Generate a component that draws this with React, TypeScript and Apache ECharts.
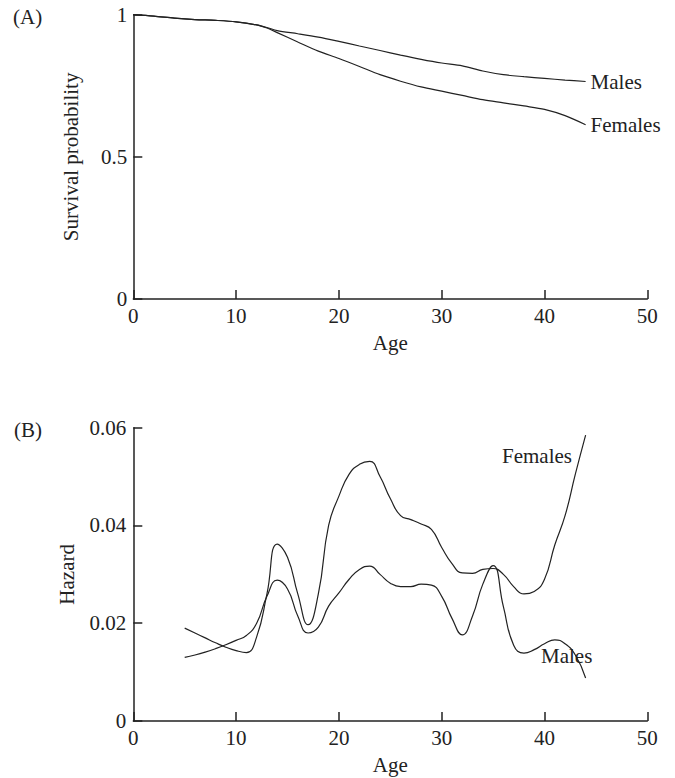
import React, { useEffect, useRef } from "react";
import * as echarts from "echarts";

// Panel A: survival probability
const survivalAges = [0, 2, 4, 6, 8, 10, 12, 13, 14, 16, 18, 20, 22, 24, 26, 28, 30, 32, 34, 36, 38, 40, 42, 44];
const survivalMales = [1.0, 0.995, 0.988, 0.983, 0.98, 0.975, 0.964, 0.955, 0.944, 0.933, 0.921, 0.906, 0.89, 0.874, 0.858, 0.843, 0.83, 0.82, 0.802, 0.789, 0.782, 0.776, 0.77, 0.765];
const survivalFemales = [1.0, 0.995, 0.988, 0.983, 0.98, 0.975, 0.964, 0.953, 0.937, 0.904, 0.872, 0.846, 0.818, 0.789, 0.766, 0.746, 0.731, 0.716, 0.701, 0.69, 0.679, 0.667, 0.645, 0.613];

// Panel B: hazard
const hazardAges = [5, 6, 7, 8, 9, 10, 11, 12, 13, 14, 15, 16, 17, 18, 19, 20, 21, 22, 23, 24, 25, 26, 27, 28, 29, 30, 31, 32, 33, 34, 35, 36, 37, 38, 39, 40, 41, 42, 43, 44];
const hazardFemales = [0.019, 0.018, 0.017, 0.016, 0.0151, 0.0144, 0.014, 0.0172, 0.026, 0.0362, 0.0335, 0.026, 0.0197, 0.026, 0.04, 0.046, 0.0505, 0.0525, 0.0531, 0.05, 0.0455, 0.042, 0.0412, 0.0403, 0.0392, 0.0355, 0.0322, 0.0303, 0.0302, 0.031, 0.0312, 0.03, 0.0275, 0.026, 0.0265, 0.029, 0.036, 0.042, 0.0505, 0.0585];
const hazardMales = [0.013, 0.0135, 0.0141, 0.0148, 0.0156, 0.0165, 0.0175, 0.02, 0.0255, 0.0288, 0.027, 0.0215, 0.018, 0.0192, 0.0235, 0.0262, 0.029, 0.031, 0.0317, 0.03, 0.0282, 0.0275, 0.0275, 0.028, 0.0278, 0.0255, 0.021, 0.0176, 0.0215, 0.028, 0.0318, 0.0234, 0.0155, 0.0139, 0.0146, 0.0158, 0.0166, 0.0158, 0.0135, 0.0088];

const ageTicks = [0, 10, 20, 30, 40, 50];

const FONT = "Liberation Serif";
const INK = "#222";
const FS = 21;

const zip = (xs: number[], ys: number[]) => xs.map((x, i) => [x, ys[i]]);

export default function App() {
  const ref = useRef<HTMLDivElement>(null);
  useEffect(() => {
    document.body.style.margin = "0";
    if (!ref.current) return;
    const chart = echarts.init(ref.current, undefined, { renderer: "svg" });
    const axisLine = { show: true, lineStyle: { color: INK, width: 1.5 } };
    const axisTick = { show: true, inside: true, length: 9, lineStyle: { color: INK, width: 1.5 } };
    const textBase = { fontFamily: FONT, fontSize: FS, color: INK };
    const xAxisCommon = {
      type: "value",
      min: ageTicks[0],
      max: ageTicks[ageTicks.length - 1],
      interval: 10,
      name: "Age",
      nameLocation: "middle",
      nameGap: 33,
      nameTextStyle: textBase,
      axisLine,
      axisTick,
      splitLine: { show: false },
      axisLabel: { ...textBase, margin: 6 },
    };
    const lineStyle = { color: INK, width: 1.2 };
    chart.setOption({
      animation: false,
      textStyle: { fontFamily: FONT },
      grid: [
        { left: 133.3, right: 27.7, top: 14.7, height: 284.3 },
        { left: 133.3, right: 27.7, top: 427.7, height: 293.3 },
      ],
      xAxis: [
        { ...xAxisCommon, gridIndex: 0 },
        { ...xAxisCommon, gridIndex: 1 },
      ],
      yAxis: [
        {
          type: "value",
          gridIndex: 0,
          min: 0,
          max: 1,
          interval: 0.5,
          name: "Survival probability",
          nameLocation: "middle",
          nameGap: 52,
          nameTextStyle: textBase,
          axisLine,
          axisTick,
          splitLine: { show: false },
          axisLabel: { ...textBase, margin: 6, formatter: (v: number) => String(v) },
        },
        {
          type: "value",
          gridIndex: 1,
          min: 0,
          max: 0.06,
          interval: 0.02,
          name: "Hazard",
          nameLocation: "middle",
          nameGap: 56,
          nameTextStyle: textBase,
          axisLine,
          axisTick,
          splitLine: { show: false },
          axisLabel: { ...textBase, margin: 7, formatter: (v: number) => (v === 0 ? "0" : v.toFixed(2)) },
        },
      ],
      series: [
        {
          type: "line",
          name: "Males",
          xAxisIndex: 0,
          yAxisIndex: 0,
          data: zip(survivalAges, survivalMales),
          smooth: 0.3,
          showSymbol: false,
          lineStyle,
          endLabel: { show: true, formatter: "Males", distance: 5, ...textBase },
        },
        {
          type: "line",
          name: "Females",
          xAxisIndex: 0,
          yAxisIndex: 0,
          data: zip(survivalAges, survivalFemales),
          smooth: 0.3,
          showSymbol: false,
          lineStyle,
          endLabel: { show: true, formatter: "Females", distance: 5, ...textBase },
        },
        {
          type: "line",
          name: "Females hazard",
          xAxisIndex: 1,
          yAxisIndex: 1,
          data: zip(hazardAges, hazardFemales),
          smooth: 0.5,
          showSymbol: false,
          lineStyle,
        },
        {
          type: "line",
          name: "Males hazard",
          xAxisIndex: 1,
          yAxisIndex: 1,
          data: zip(hazardAges, hazardMales),
          smooth: 0.5,
          showSymbol: false,
          lineStyle,
        },
      ],
      graphic: [
        { type: "text", left: 13, top: 6, style: { text: "(A)", font: `${FS}px ${FONT}`, fill: INK } },
        { type: "text", left: 14, top: 419, style: { text: "(B)", font: `${FS}px ${FONT}`, fill: INK } },
        { type: "text", left: 502, top: 445, style: { text: "Females", font: `${FS}px ${FONT}`, fill: INK } },
        { type: "text", left: 541, top: 645, style: { text: "Males", font: `${FS}px ${FONT}`, fill: INK } },
      ],
    });
    return () => chart.dispose();
  }, []);
  return <div ref={ref} style={{ width: 675, height: 778 }} />;
}
